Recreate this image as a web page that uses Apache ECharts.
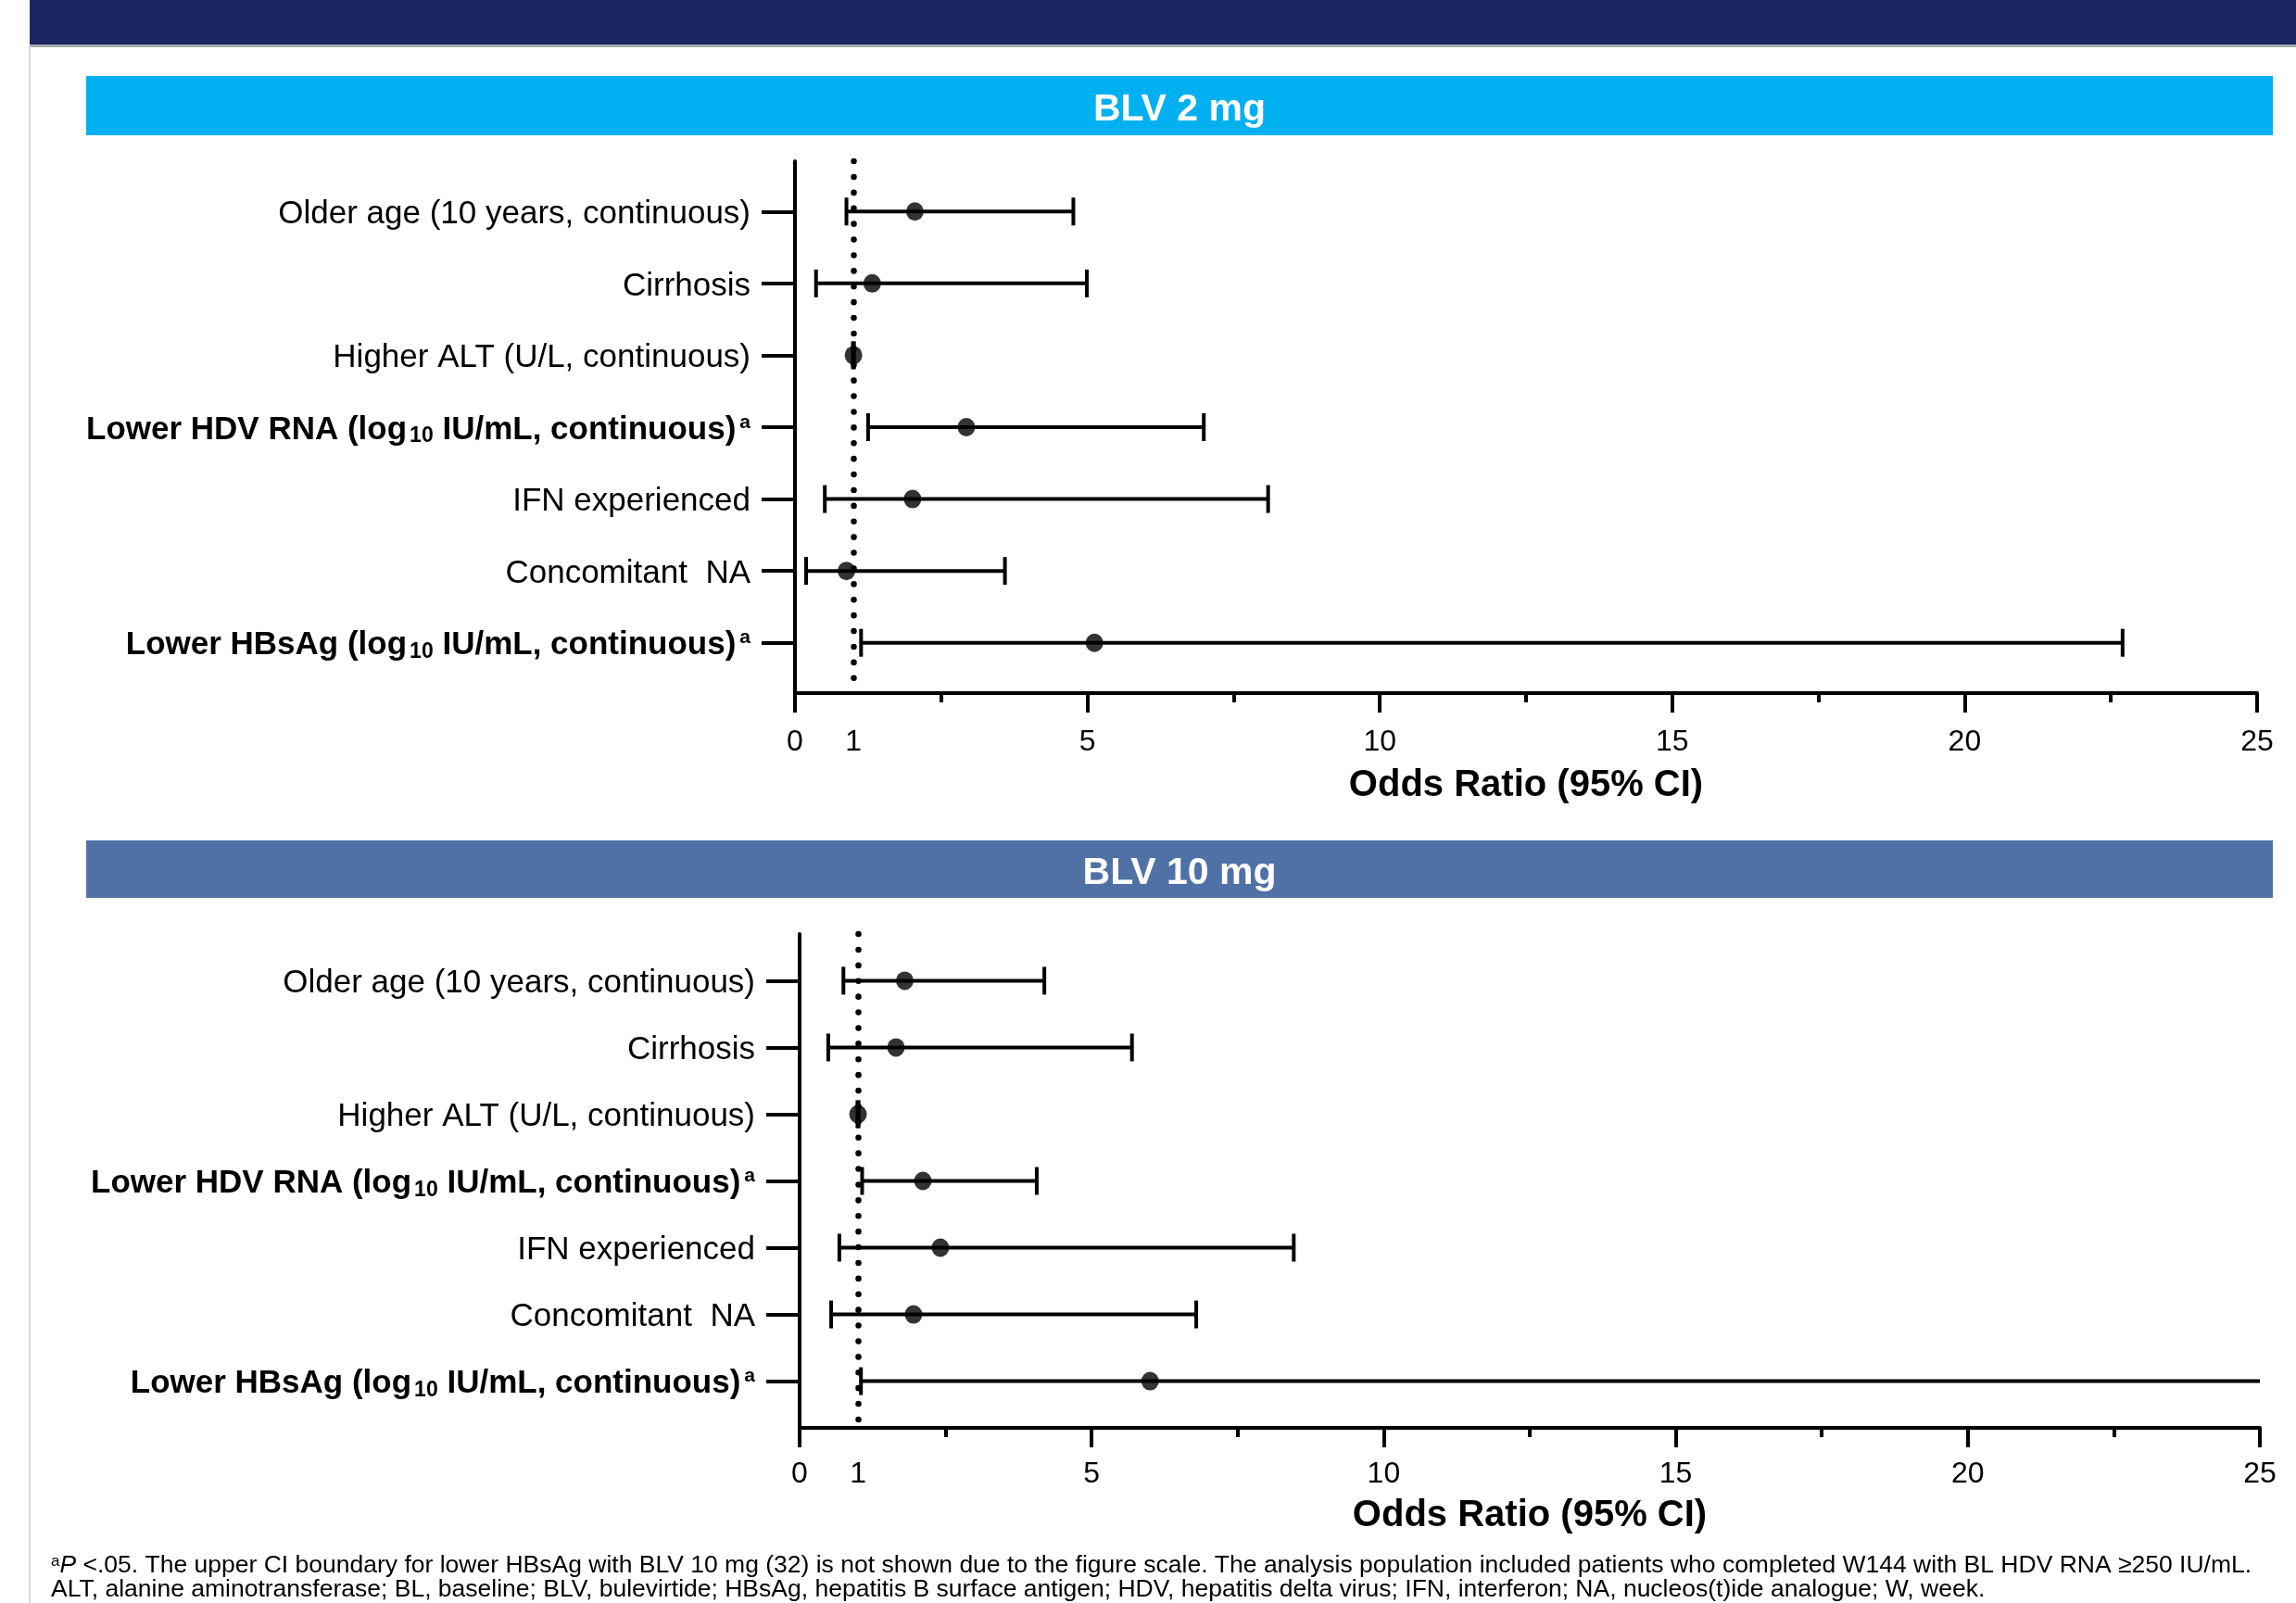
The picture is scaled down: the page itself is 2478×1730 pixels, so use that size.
<!DOCTYPE html>
<html>
<head>
<meta charset="utf-8">
<title>Odds ratio forest plot</title>
<script src="https://cdn.jsdelivr.net/npm/echarts@6/dist/echarts.min.js"></script>
<style>
  html, body { margin: 0; padding: 0; background: #fff; }
  #chart { width: 2478px; height: 1730px; }
</style>
</head>
<body>
<div id="chart"></div>
<script>
// predictors, top to bottom (bold = P < .05)
const categories = [
  'Older age (10 years, continuous)',
  'Cirrhosis',
  'Higher ALT (U/L, continuous)',
  'Lower HDV RNA',
  'IFN experienced',
  'Concomitant  NA',
  'Lower HBsAg'
]

// BLV 2 mg: odds ratio, lower and upper 95% CI
const or2 = [2.05, 1.32, 1.0, 2.93, 2.01, 0.88, 5.12]
const lo2 = [0.88, 0.36, 0.99, 1.25, 0.51, 0.19, 1.13]
const hi2 = [4.76, 4.99, 1.01, 6.99, 8.09, 3.59, 22.7]

// BLV 10 mg
const or10 = [1.80, 1.65, 1.0, 2.11, 2.41, 1.95, 6.0]
const lo10 = [0.75, 0.49, 0.99, 1.07, 0.68, 0.54, 1.05]
const hi10 = [4.19, 5.69, 1.01, 4.06, 8.46, 6.79, 32]

const xLabels = [0, 1, 5, 10, 15, 20, 25]
const xMajorTicks = [0, 5, 10, 15, 20, 25]
const X_MAX = 25

const FONT = '"Liberation Sans", Arial, Helvetica, sans-serif'

function rowLabel (i) {
  if (i === 3) return '{b|Lower HDV RNA (log}{sub|10}{b| IU/mL, continuous)}{sup|a}'
  if (i === 6) return '{b|Lower HBsAg (log}{sub|10}{b| IU/mL, continuous)}{sup|a}'
  return '{n|' + categories[i] + '}'
}

function errorBar (params, api) {
  let y = api.value(0)
  let lo = api.value(1)
  let hi = api.value(2)
  let a = api.coord([lo, y])
  let b = api.coord([Math.min(hi, X_MAX), y])
  let capH = 15
  let st = { stroke: '#000', lineWidth: 4 }
  let children = [
    { type: 'line', shape: { x1: a[0], y1: a[1], x2: b[0], y2: b[1] }, style: st },
    { type: 'line', shape: { x1: a[0], y1: a[1] - capH, x2: a[0], y2: a[1] + capH }, style: st }
  ]
  // cap only when the upper bound fits on the scale
  if (hi <= X_MAX) {
    children.push({ type: 'line', shape: { x1: b[0], y1: b[1] - capH, x2: b[0], y2: b[1] + capH }, style: st })
  }
  return { type: 'group', children: children }
}

function makeX (idx, margin, nameGap) {
  return {
    gridIndex: idx,
    type: 'value',
    min: 0,
    max: X_MAX,
    interval: 5,
    name: 'Odds Ratio (95% CI)',
    nameLocation: 'middle',
    nameGap: nameGap,
    nameTextStyle: { fontFamily: FONT, fontSize: 40, fontWeight: 'bold', color: '#000' },
    axisLine: { show: true, onZero: false, lineStyle: { color: '#000', width: 4 } },
    axisTick: { show: true, customValues: xMajorTicks, length: 21, lineStyle: { color: '#000', width: 4 } },
    minorTick: { show: true, splitNumber: 2, length: 10, lineStyle: { color: '#000', width: 4 } },
    axisLabel: { customValues: xLabels, margin: margin, fontFamily: FONT, fontSize: 32, color: '#000' },
    splitLine: { show: false }
  }
}

function makeY (idx) {
  return {
    gridIndex: idx,
    type: 'value',
    inverse: true,
    min: -0.7,
    max: 6.7,
    axisLine: { show: true, onZero: false, lineStyle: { color: '#000', width: 4 } },
    axisTick: { show: true, customValues: [0, 1, 2, 3, 4, 5, 6], length: 36, lineStyle: { color: '#000', width: 4 } },
    axisLabel: {
      customValues: [0, 1, 2, 3, 4, 5, 6],
      margin: 48,
      formatter: function (v) { return rowLabel(Math.round(v)) },
      rich: {
        n: { fontFamily: FONT, fontSize: 35, color: '#000', padding: [6, 0, 0, 0] },
        b: { fontFamily: FONT, fontSize: 35, fontWeight: 'bold', color: '#000', padding: [6, 0, 0, 0] },
        sub: { fontFamily: FONT, fontSize: 23, fontWeight: 'bold', color: '#000', padding: [20, 0, 0, 3] },
        sup: { fontFamily: FONT, fontSize: 21, fontWeight: 'bold', color: '#000', padding: [0, 0, 10, 4] }
      }
    },
    splitLine: { show: false }
  }
}

function panelSeries (idx, ors, los, his) {
  let bars = ors.map(function (v, i) { return [i, los[i], his[i]] })
  let pts = ors.map(function (v, i) { return [v, i] })
  return [
    {
      type: 'custom',
      xAxisIndex: idx,
      yAxisIndex: idx,
      renderItem: errorBar,
      encode: { x: [1, 2], y: 0 },
      data: bars,
      silent: true,
      z: 3
    },
    {
      type: 'scatter',
      xAxisIndex: idx,
      yAxisIndex: idx,
      symbol: 'circle',
      symbolSize: [19, 20],
      itemStyle: { color: '#000' },
      data: pts,
      z: 4,
      markLine: {
        silent: true,
        symbol: 'none',
        label: { show: false },
        lineStyle: { color: '#000', width: 6.5, type: [0.1, 16.8], cap: 'round' },
        data: [{ xAxis: 1 }]
      }
    }
  ]
}

let chart = echarts.init(document.getElementById('chart'))

let option = {
  backgroundColor: '#fff',
  animation: false,
  grid: [
    { left: 858, top: 174, width: 1578, height: 574 },
    { left: 863, top: 1008, width: 1576, height: 533 }
  ],
  xAxis: [makeX(0, 37, 80), makeX(1, 34, 75)],
  yAxis: [makeY(0), makeY(1)],
  graphic: [
    // header band and page frame
    { type: 'rect', left: 32, top: 0, shape: { width: 2446, height: 48 }, style: { fill: '#1B2560' } },
    { type: 'rect', left: 32, top: 48, shape: { width: 2446, height: 3 }, style: { fill: '#A9A9B0' } },
    { type: 'rect', left: 31, top: 48, shape: { width: 2, height: 1682 }, style: { fill: '#DADADA' } },
    // panel titles
    { type: 'rect', left: 93, top: 82, shape: { width: 2360, height: 64 }, style: { fill: '#00B0F0' } },
    {
      type: 'text', x: 1273, y: 119,
      style: { text: 'BLV 2 mg', fill: '#fff', font: 'bold 41px ' + FONT, align: 'center', verticalAlign: 'middle' }
    },
    { type: 'rect', left: 93, top: 907, shape: { width: 2360, height: 62 }, style: { fill: '#5071A6' } },
    {
      type: 'text', x: 1273, y: 943,
      style: { text: 'BLV 10 mg', fill: '#fff', font: 'bold 41px ' + FONT, align: 'center', verticalAlign: 'middle' }
    },
    // footnotes
    {
      type: 'text', x: 55, y: 1690,
      style: {
        text: '{s|a}{i|P} <.05. The upper CI boundary for lower HBsAg with BLV 10 mg (32) is not shown due to the figure scale. The analysis population included patients who completed W144 with BL HDV RNA \u2265250 IU/mL.',
        font: '26.5px ' + FONT,
        fill: '#000',
        verticalAlign: 'middle',
        rich: {
          s: { fontFamily: FONT, fontSize: 17, fill: '#000', padding: [0, 0, 10, 0] },
          i: { fontFamily: FONT, fontSize: 26.5, fontStyle: 'italic', fill: '#000' }
        }
      }
    },
    {
      type: 'text', x: 55, y: 1716,
      style: {
        text: 'ALT, alanine aminotransferase; BL, baseline; BLV, bulevirtide; HBsAg, hepatitis B surface antigen; HDV, hepatitis delta virus; IFN, interferon; NA, nucleos(t)ide analogue; W, week.',
        font: '26.5px ' + FONT,
        fill: '#000',
        verticalAlign: 'middle'
      }
    }
  ],
  series: panelSeries(0, or2, lo2, hi2).concat(panelSeries(1, or10, lo10, hi10))
}

chart.setOption(option)
</script>
</body>
</html>
